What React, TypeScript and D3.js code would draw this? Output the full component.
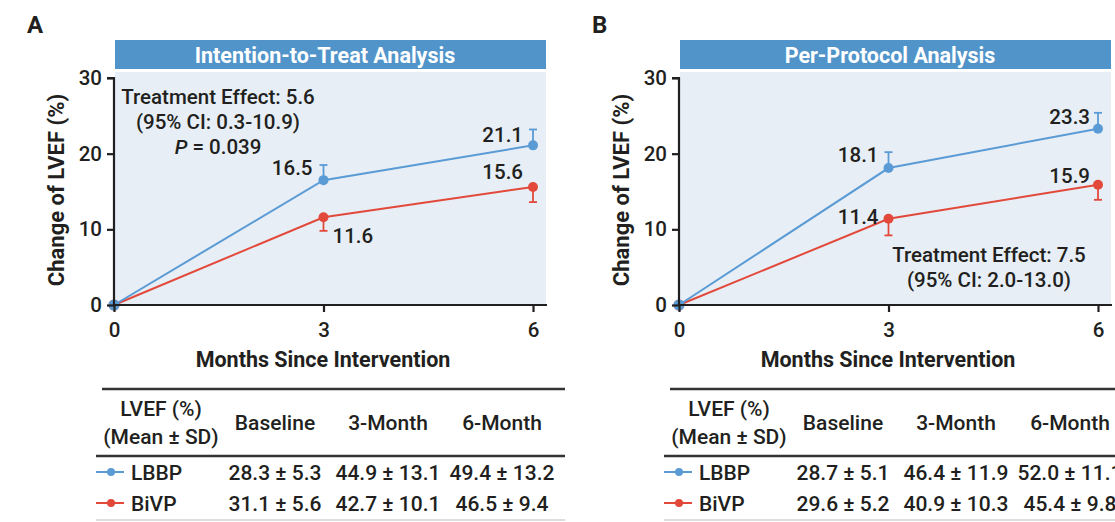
import React, { useEffect, useRef } from 'react';
import * as d3 from 'd3';

// months since intervention
const months = [0, 3, 6];
const yTicks = [0, 10, 20, 30];

// change of LVEF (%), intention-to-treat
const ittLBBP = [0, 16.5, 21.1];
const ittBiVP = [0, 11.6, 15.6];
const ittLBBPErr = [0, 2.0, 2.1];
const ittBiVPErr = [0, 1.8, 2.0];

// change of LVEF (%), per-protocol
const ppLBBP = [0, 18.1, 23.3];
const ppBiVP = [0, 11.4, 15.9];
const ppLBBPErr = [0, 2.1, 2.1];
const ppBiVPErr = [0, 2.2, 2.0];

// table below each chart
const tableCols = ['Baseline', '3-Month', '6-Month'];
const ittTableLBBP = ['28.3 ± 5.3', '44.9 ± 13.1', '49.4 ± 13.2'];
const ittTableBiVP = ['31.1 ± 5.6', '42.7 ± 10.1', '46.5 ± 9.4'];
const ppTableLBBP = ['28.7 ± 5.1', '46.4 ± 11.9', '52.0 ± 11.1'];
const ppTableBiVP = ['29.6 ± 5.2', '40.9 ± 10.3', '45.4 ± 9.8'];

const BLUE = '#5a9bd5';
const RED = '#e2493b';
const BAR = '#5194ca';
const BG = '#e7eef5';
const INK = '#221f20';
const FONT = 'Roboto, "Noto Sans", sans-serif';
const FS = 20.5;
const TFS = 21;
const W = 500;

type LabelPos = { dx: number; dy: number; anchor: string };

interface PanelProps {
  ox: number;
  tx: number;
  letter: string;
  title: string;
  lbbp: number[];
  bivp: number[];
  lbbpErr: number[];
  bivpErr: number[];
  lbbpLabels: (LabelPos | null)[];
  bivpLabels: (LabelPos | null)[];
  effect: string[];
  effectPos: { x: number; y: number };
  pValue?: string;
  tableLBBP: string[];
  tableBiVP: string[];
}

function Panel(p: PanelProps) {
  const xAxisRef = useRef<SVGGElement>(null);
  const yAxisRef = useRef<SVGGElement>(null);

  const x = d3.scaleLinear().domain([0, 6]).range([114 + p.ox, 533 + p.ox]);
  const y = d3.scaleLinear().domain([0, 30]).range([305, 78]);
  const line = d3
    .line<number>()
    .x((d, i) => x(months[i]))
    .y(d => y(d));

  useEffect(() => {
    const gx = d3.select(xAxisRef.current!);
    gx.selectAll('*').remove();
    gx.call(d3.axisBottom(x).tickValues(months).tickSize(7).tickPadding(10).tickFormat(d3.format('d')) as any);
    gx.select('.domain').attr('d', `M${x(0)},0H${x(0) + 433}`);
    gx.selectAll('.domain, .tick line').attr('stroke', INK).attr('stroke-width', 2.2);
    gx.selectAll('.tick text').attr('fill', INK).style('font-size', '20.5px').style('font-weight', W).style('font-family', FONT);

    const gy = d3.select(yAxisRef.current!);
    gy.selectAll('*').remove();
    gy.call(d3.axisLeft(y).tickValues(yTicks).tickSize(7).tickPadding(5).tickFormat(d3.format('d')) as any);
    gy.select('.domain').attr('d', `M-7,${y(30)}H0V${y(0)}`);
    gy.selectAll('.domain, .tick line').attr('stroke', INK).attr('stroke-width', 2.2);
    gy.selectAll('.tick text').attr('fill', INK).style('font-size', '20.5px').style('font-weight', W).style('font-family', FONT);
  });

  const series = [
    { vals: p.bivp, err: p.bivpErr, color: RED, sign: -1, labels: p.bivpLabels },
    { vals: p.lbbp, err: p.lbbpErr, color: BLUE, sign: 1, labels: p.lbbpLabels }
  ];

  const t = p.tx;
  const colX = [275, 388, 502].map(c => c + t);
  const left = 96 + t;
  const right = 565 + t;

  return (
    <g fontFamily={FONT} fontWeight={W}>
      <text x={27 + p.ox} y={33} fontSize={24} fontWeight="bold" fill={INK}>
        {p.letter}
      </text>
      <rect x={115 + p.ox} y={40} width={431} height={29} fill={BAR} />
      <text x={325 + p.ox} y={62.5} textAnchor="middle" fontSize={21.5} fontWeight="bold" fill="#fff">
        {p.title}
      </text>
      <rect x={115 + p.ox} y={72} width={431} height={233} fill={BG} />

      {series.map((s, k) => (
        <g key={k}>
          <path d={line(s.vals) || ''} fill="none" stroke={s.color} strokeWidth={2} />
          {s.vals.map((v, i) =>
            s.err[i] > 0 ? (
              <g key={i} stroke={s.color} strokeWidth={1.8}>
                <line x1={x(months[i])} x2={x(months[i])} y1={y(v)} y2={y(v + s.sign * s.err[i])} />
                <line x1={x(months[i]) - 4} x2={x(months[i]) + 4} y1={y(v + s.sign * s.err[i])} y2={y(v + s.sign * s.err[i])} />
              </g>
            ) : null
          )}
          {s.vals.map((v, i) => (
            <circle key={i} cx={x(months[i])} cy={y(v)} r={i === 0 ? 5.5 : 5} fill={s.color} />
          ))}
          {s.vals.map((v, i) => {
            const l = s.labels[i];
            if (!l) return null;
            return (
              <text key={i} x={x(months[i]) + l.dx} y={y(v) + l.dy} textAnchor={l.anchor} fontSize={FS} fill={INK}>
                {v.toFixed(1)}
              </text>
            );
          })}
        </g>
      ))}

      <g ref={xAxisRef} transform={`translate(0,${y(0)})`} />
      <g ref={yAxisRef} transform={`translate(${x(0)},0)`} />

      {p.effect.map((e, i) => (
        <text key={i} x={p.effectPos.x + p.ox} y={p.effectPos.y + i * 25} textAnchor="middle" fontSize={FS} fill={INK}>
          {e}
        </text>
      ))}
      {p.pValue ? (
        <text x={p.effectPos.x + p.ox} y={p.effectPos.y + 50} textAnchor="middle" fontSize={FS} fill={INK}>
          <tspan fontStyle="italic">P</tspan> = {p.pValue}
        </text>
      ) : null}

      <text
        transform={`translate(${64 + p.ox},190) rotate(-90)`}
        textAnchor="middle"
        fontSize={22}
        fontWeight="bold"
        fill={INK}
      >
        Change of LVEF (%)
      </text>
      <text x={323 + p.ox} y={367} textAnchor="middle" fontSize={21.5} fontWeight="bold" fill={INK}>
        Months Since Intervention
      </text>

      {/* table */}
      <line x1={left + 6} x2={right} y1={389} y2={389} stroke="#333" strokeWidth={2.4} />
      <text x={161 + t} y={416} textAnchor="middle" fontSize={TFS} fill={INK}>
        LVEF (%)
      </text>
      <text x={161 + t} y={444} textAnchor="middle" fontSize={TFS} fill={INK}>
        (Mean ± SD)
      </text>
      {tableCols.map((c, i) => (
        <text key={c} x={colX[i]} y={430} textAnchor="middle" fontSize={TFS} fill={INK}>
          {c}
        </text>
      ))}
      <line x1={left} x2={right} y1={456} y2={456} stroke="#333" strokeWidth={2.4} />
      {[
        { name: 'LBBP', color: BLUE, vals: p.tableLBBP, cy: 472 },
        { name: 'BiVP', color: RED, vals: p.tableBiVP, cy: 503 }
      ].map(r => (
        <g key={r.name}>
          <line x1={left} x2={left + 28} y1={r.cy} y2={r.cy} stroke={r.color} strokeWidth={2} />
          <circle cx={left + 15} cy={r.cy} r={4} fill={r.color} />
          <text x={left + 35} y={r.cy + 7.5} fontSize={TFS} fill={INK}>
            {r.name}
          </text>
          {r.vals.map((v, i) => (
            <text key={i} x={colX[i]} y={r.cy + 7.5} textAnchor="middle" fontSize={TFS} fill={INK}>
              {v}
            </text>
          ))}
        </g>
      ))}
      <line x1={left} x2={right} y1={520} y2={520} stroke="#bbb" strokeWidth={1} />
    </g>
  );
}

export default function App() {
  const pos = (dx: number, dy: number, anchor = 'end'): LabelPos => ({ dx, dy, anchor });
  return (
    <div style={{ position: 'absolute', left: 0, top: 0 }}>
      <svg width={1115} height={522} style={{ display: 'block', background: '#fff' }}>
        <Panel
          ox={0}
          tx={0}
          letter="A"
          title="Intention-to-Treat Analysis"
          lbbp={ittLBBP}
          bivp={ittBiVP}
          lbbpErr={ittLBBPErr}
          bivpErr={ittBiVPErr}
          lbbpLabels={[null, pos(-11, -5), pos(-10, -3)]}
          bivpLabels={[null, pos(9, 26, 'start'), pos(-10, -8)]}
          effect={['Treatment Effect: 5.6', '(95% CI: 0.3-10.9)']}
          effectPos={{ x: 218, y: 104 }}
          pValue="0.039"
          tableLBBP={ittTableLBBP}
          tableBiVP={ittTableBiVP}
        />
        <Panel
          ox={565}
          tx={568}
          letter="B"
          title="Per-Protocol Analysis"
          lbbp={ppLBBP}
          bivp={ppBiVP}
          lbbpErr={ppLBBPErr}
          bivpErr={ppBiVPErr}
          lbbpLabels={[null, pos(-10, -6), pos(-8, -5)]}
          bivpLabels={[null, pos(-10, 5), pos(-8, -2)]}
          effect={['Treatment Effect: 7.5', '(95% CI: 2.0-13.0)']}
          effectPos={{ x: 424, y: 262 }}
          tableLBBP={ppTableLBBP}
          tableBiVP={ppTableBiVP}
        />
      </svg>
    </div>
  );
}
